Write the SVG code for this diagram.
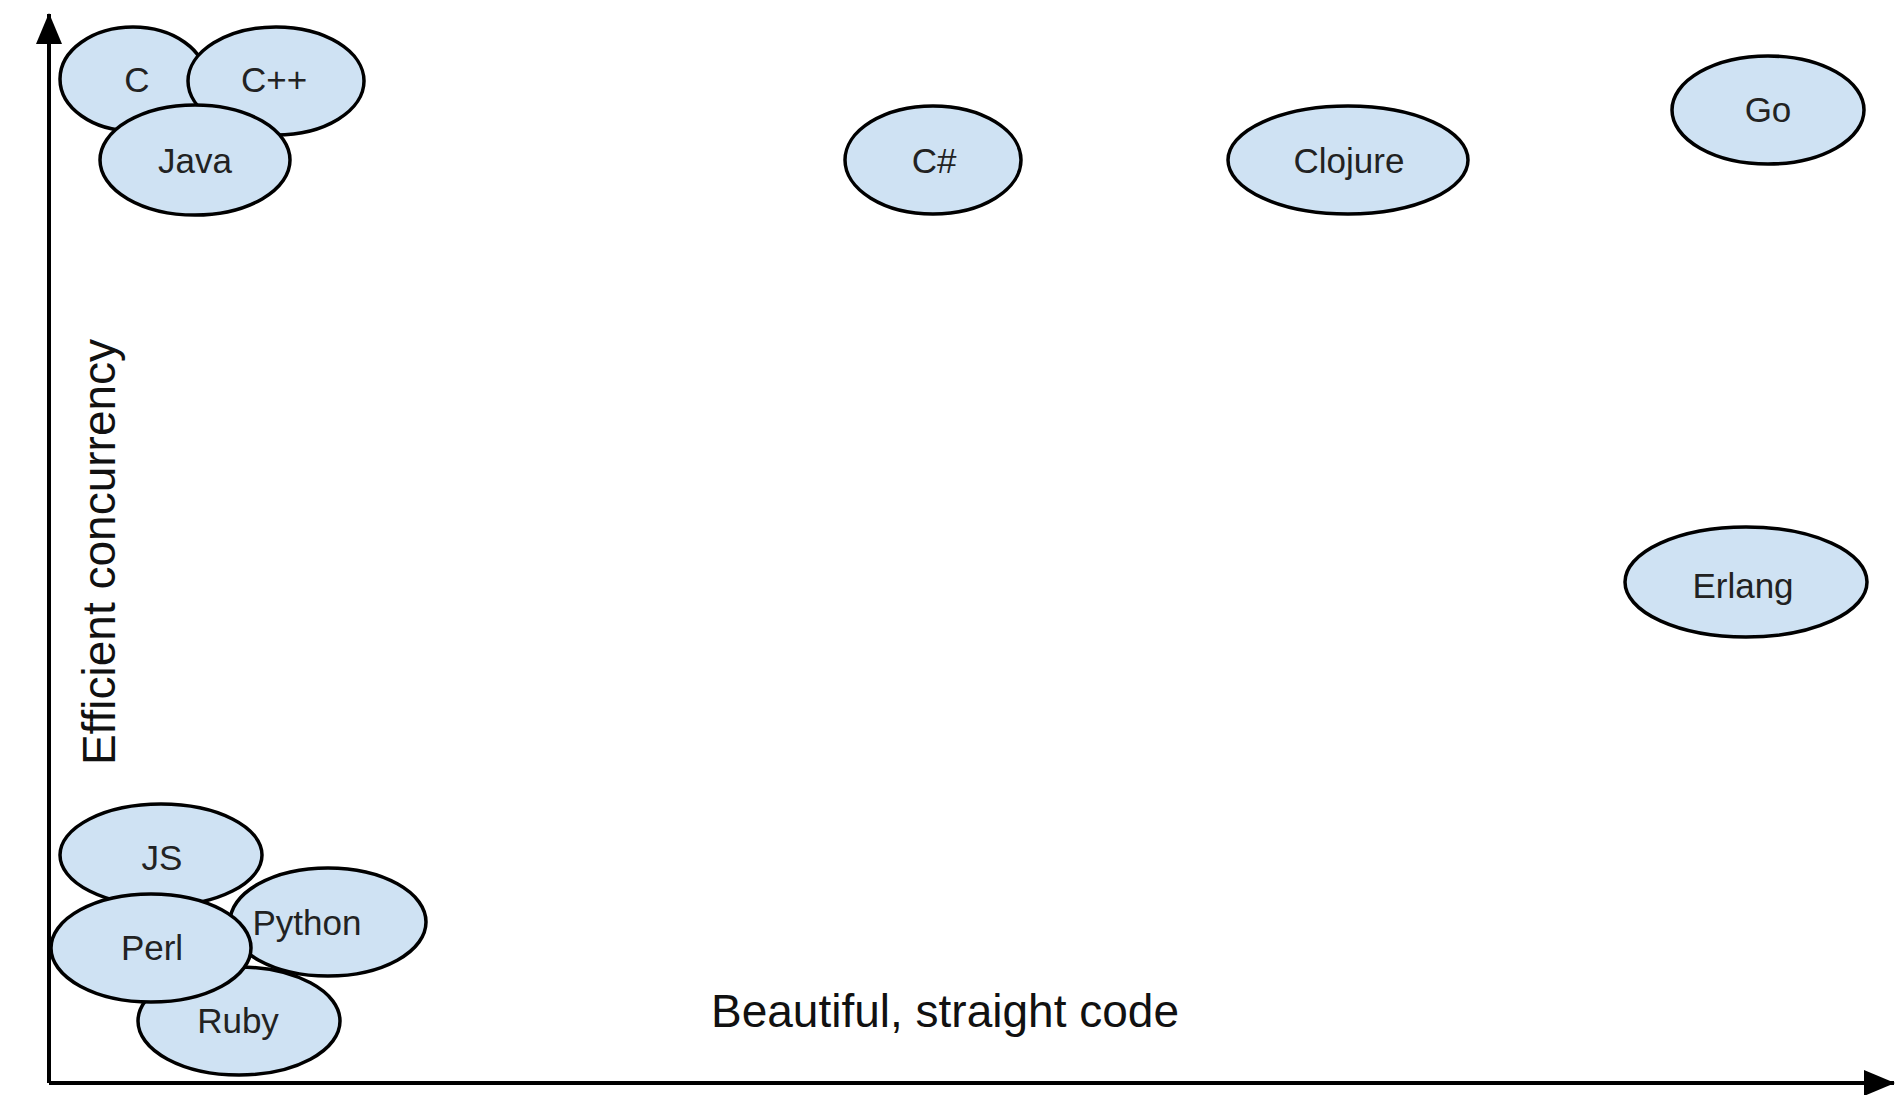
<svg xmlns="http://www.w3.org/2000/svg" width="1895" height="1095" viewBox="0 0 1895 1095">
<style>
.node ellipse{fill:#cfe2f3;stroke:#000;stroke-width:3.5}
.node text{font-family:"Liberation Sans",Arial,sans-serif;font-size:35px;fill:#222;text-anchor:middle}
.axis{stroke:#000;stroke-width:4;fill:none}
.label{font-family:"Liberation Sans",Arial,sans-serif;font-size:46px;fill:#111;text-anchor:middle}
</style>
<defs>
<marker id="arrow" markerUnits="userSpaceOnUse" markerWidth="32" markerHeight="28" refX="30" refY="13" orient="auto">
<path d="M0,0 L31,13 L0,26 z" fill="#000"/>
</marker>
</defs>
<rect width="1895" height="1095" fill="#fff"/>
<g id="axes">
<line class="axis" x1="49" y1="1083" x2="49" y2="14" marker-end="url(#arrow)"/>
<line class="axis" x1="49" y1="1083" x2="1894" y2="1083" marker-end="url(#arrow)"/>
</g>
<g id="node-c" class="node"><ellipse cx="133" cy="79" rx="73" ry="52"/><text x="137" y="92">C</text></g>
<g id="node-cpp" class="node"><ellipse cx="276" cy="81" rx="88" ry="54"/><text x="274" y="92">C++</text></g>
<g id="node-java" class="node"><ellipse cx="195" cy="160" rx="95" ry="55"/><text x="195" y="173">Java</text></g>
<g id="node-csharp" class="node"><ellipse cx="933" cy="160" rx="88" ry="54"/><text x="934" y="173">C#</text></g>
<g id="node-clojure" class="node"><ellipse cx="1348" cy="160" rx="120" ry="54"/><text x="1349" y="173">Clojure</text></g>
<g id="node-go" class="node"><ellipse cx="1768" cy="110" rx="96" ry="54"/><text x="1768" y="122">Go</text></g>
<g id="node-erlang" class="node"><ellipse cx="1746" cy="582" rx="121" ry="55"/><text x="1743" y="598">Erlang</text></g>
<g id="node-ruby" class="node"><ellipse cx="239" cy="1021" rx="101" ry="54"/><text x="238" y="1033">Ruby</text></g>
<g id="node-python" class="node"><ellipse cx="328" cy="922" rx="98" ry="54"/><text x="307" y="935">Python</text></g>
<g id="node-js" class="node"><ellipse cx="161" cy="855" rx="101" ry="51"/><text x="162" y="870">JS</text></g>
<g id="node-perl" class="node"><ellipse cx="151" cy="948" rx="100" ry="54"/><text x="152" y="960">Perl</text></g>
<text class="label" x="945" y="1027">Beautiful, straight code</text>
<text class="label" transform="translate(115,552) rotate(-90)">Efficient concurrency</text>
</svg>
